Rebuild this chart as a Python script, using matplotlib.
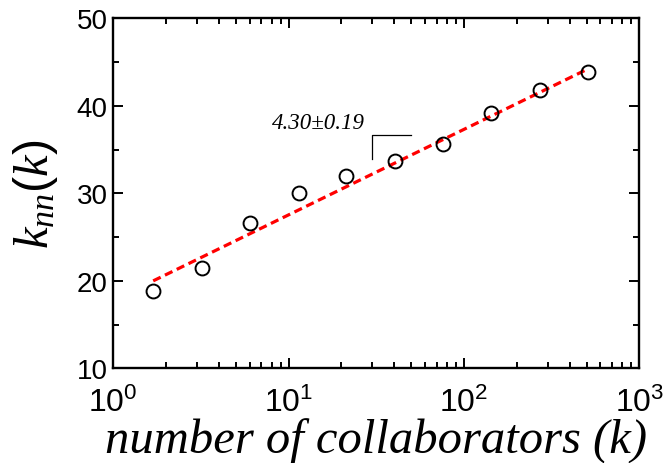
import matplotlib
matplotlib.use('Agg')
import matplotlib.pyplot as plt
from matplotlib.ticker import MultipleLocator, LogLocator, NullFormatter

# data
k_vals = [1.69, 3.19, 6.02, 11.4, 21.2, 40.3, 75.7, 143, 271, 508]
knn_vals = [18.9, 21.5, 26.6, 30.0, 32.0, 33.7, 35.7, 39.2, 41.8, 43.9]

# fitted line (end points) and slope bracket
fit_x = [1.69, 505]
fit_y = [20.0, 44.2]
bracket_x = [30, 30, 50]
bracket_y = [33.9, 36.7, 36.7]
slope_text = '4.30\u00b10.19'

plt.rcParams['font.family'] = ['Liberation Sans', 'DejaVu Sans']
plt.rcParams['mathtext.fontset'] = 'custom'
plt.rcParams['mathtext.rm'] = 'Liberation Sans'
plt.rcParams['mathtext.it'] = 'Liberation Serif:italic'
plt.rcParams['mathtext.bf'] = 'Liberation Sans:bold'

fig = plt.figure(figsize=(6.66, 4.64), dpi=100)
ax = fig.add_axes([0.170, 0.204, 0.790, 0.754])

ax.plot(fit_x, fit_y, color='#ff0000', lw=2.3, linestyle=(0, (2.6, 1.5)), zorder=2)
ax.plot(k_vals, knn_vals, 'o', ms=10, mfc='none', mec='black', mew=1.4, zorder=3)
ax.plot(bracket_x, bracket_y, color='black', lw=0.9)
ax.text(14.7, 38.1, slope_text, fontsize=16.5, family='Liberation Serif', style='italic',
        ha='center', va='center')

ax.set_xscale('log')
ax.set_xlim(1, 1000)
ax.set_ylim(10, 50)
ax.yaxis.set_major_locator(MultipleLocator(10))
ax.yaxis.set_minor_locator(MultipleLocator(5))
ax.xaxis.set_minor_locator(LogLocator(base=10, subs=range(2, 10)))
ax.xaxis.set_minor_formatter(NullFormatter())

ax.tick_params(which='both', direction='in', top=True, right=True, width=1.4)
ax.tick_params(which='major', length=7.2)
ax.tick_params(which='minor', length=4.3)
ax.tick_params(axis='x', labelsize=23, pad=13)
ax.tick_params(axis='y', labelsize=20, pad=4)
for s in ax.spines.values():
    s.set_linewidth(1.7)

ax.set_xlabel('number of collaborators (k)', family='Liberation Serif', style='italic',
              fontsize=35, labelpad=0)
ax.set_ylabel(r'$\mathit{k_{nn}(k)}$', fontsize=35, labelpad=12)

fig.savefig('out.png', dpi=100)
